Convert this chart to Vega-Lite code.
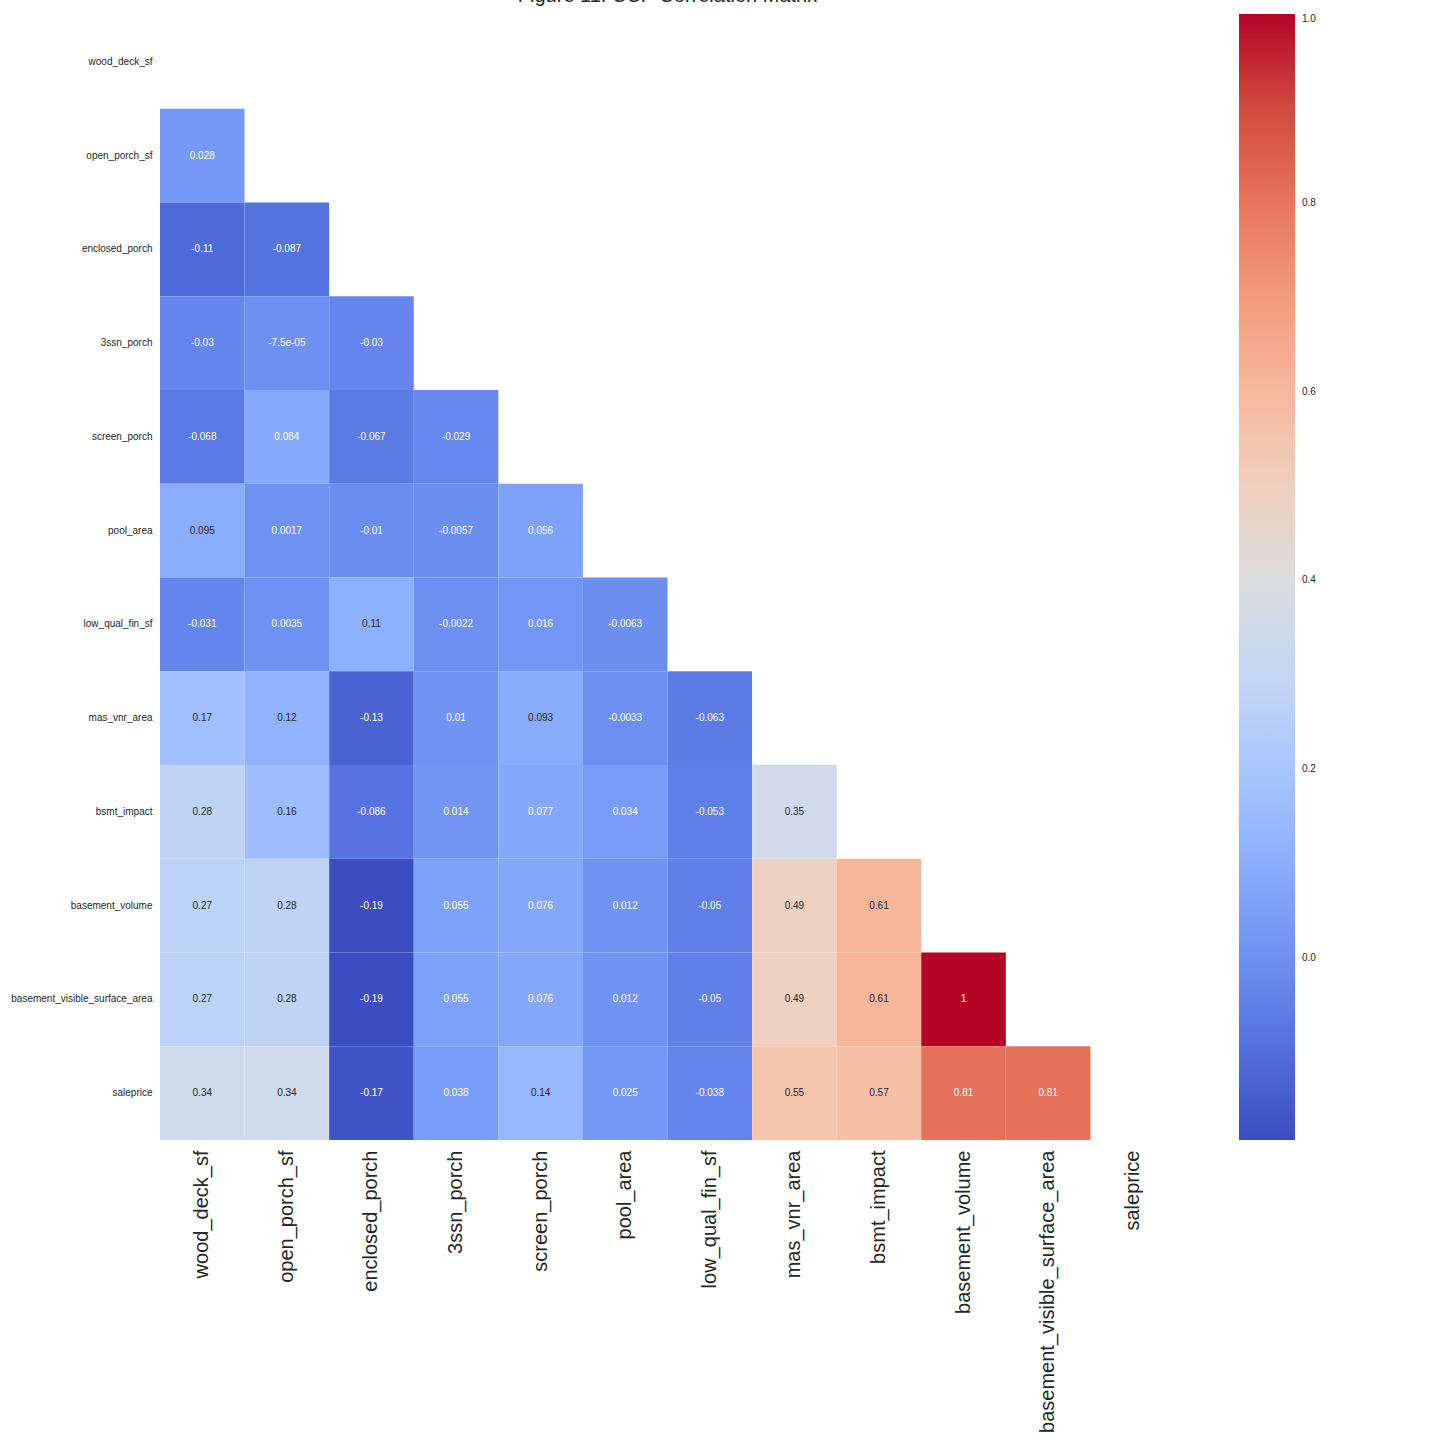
{
  "$schema": "https://vega.github.io/schema/vega-lite/v6.json",
  "autosize": "none",
  "width": 1015,
  "height": 1125,
  "padding": {"left": 160, "top": 15, "right": 265, "bottom": 300},
  "background": "white",
  "title": {"text": "Figure 11: CCP Correlation Matrix", "fontSize": 20, "font": "Liberation Sans", "fontWeight": "normal", "color": "#262626", "anchor": "middle", "frame": "group", "offset": 8},
  "config": {"view": {"stroke": null}, "font": "Liberation Sans"},
  "data": {"values": [
    {"row": "open_porch_sf", "col": "wood_deck_sf", "v": 0.028, "label": "0.028"},
    {"row": "enclosed_porch", "col": "wood_deck_sf", "v": -0.11, "label": "-0.11"},
    {"row": "enclosed_porch", "col": "open_porch_sf", "v": -0.087, "label": "-0.087"},
    {"row": "3ssn_porch", "col": "wood_deck_sf", "v": -0.03, "label": "-0.03"},
    {"row": "3ssn_porch", "col": "open_porch_sf", "v": -0.000075, "label": "-7.5e-05"},
    {"row": "3ssn_porch", "col": "enclosed_porch", "v": -0.03, "label": "-0.03"},
    {"row": "screen_porch", "col": "wood_deck_sf", "v": -0.068, "label": "-0.068"},
    {"row": "screen_porch", "col": "open_porch_sf", "v": 0.084, "label": "0.084"},
    {"row": "screen_porch", "col": "enclosed_porch", "v": -0.067, "label": "-0.067"},
    {"row": "screen_porch", "col": "3ssn_porch", "v": -0.029, "label": "-0.029"},
    {"row": "pool_area", "col": "wood_deck_sf", "v": 0.095, "label": "0.095"},
    {"row": "pool_area", "col": "open_porch_sf", "v": 0.0017, "label": "0.0017"},
    {"row": "pool_area", "col": "enclosed_porch", "v": -0.01, "label": "-0.01"},
    {"row": "pool_area", "col": "3ssn_porch", "v": -0.0057, "label": "-0.0057"},
    {"row": "pool_area", "col": "screen_porch", "v": 0.056, "label": "0.056"},
    {"row": "low_qual_fin_sf", "col": "wood_deck_sf", "v": -0.031, "label": "-0.031"},
    {"row": "low_qual_fin_sf", "col": "open_porch_sf", "v": 0.0035, "label": "0.0035"},
    {"row": "low_qual_fin_sf", "col": "enclosed_porch", "v": 0.11, "label": "0.11"},
    {"row": "low_qual_fin_sf", "col": "3ssn_porch", "v": -0.0022, "label": "-0.0022"},
    {"row": "low_qual_fin_sf", "col": "screen_porch", "v": 0.016, "label": "0.016"},
    {"row": "low_qual_fin_sf", "col": "pool_area", "v": -0.0063, "label": "-0.0063"},
    {"row": "mas_vnr_area", "col": "wood_deck_sf", "v": 0.17, "label": "0.17"},
    {"row": "mas_vnr_area", "col": "open_porch_sf", "v": 0.12, "label": "0.12"},
    {"row": "mas_vnr_area", "col": "enclosed_porch", "v": -0.13, "label": "-0.13"},
    {"row": "mas_vnr_area", "col": "3ssn_porch", "v": 0.01, "label": "0.01"},
    {"row": "mas_vnr_area", "col": "screen_porch", "v": 0.093, "label": "0.093"},
    {"row": "mas_vnr_area", "col": "pool_area", "v": -0.0033, "label": "-0.0033"},
    {"row": "mas_vnr_area", "col": "low_qual_fin_sf", "v": -0.063, "label": "-0.063"},
    {"row": "bsmt_impact", "col": "wood_deck_sf", "v": 0.28, "label": "0.28"},
    {"row": "bsmt_impact", "col": "open_porch_sf", "v": 0.16, "label": "0.16"},
    {"row": "bsmt_impact", "col": "enclosed_porch", "v": -0.086, "label": "-0.086"},
    {"row": "bsmt_impact", "col": "3ssn_porch", "v": 0.014, "label": "0.014"},
    {"row": "bsmt_impact", "col": "screen_porch", "v": 0.077, "label": "0.077"},
    {"row": "bsmt_impact", "col": "pool_area", "v": 0.034, "label": "0.034"},
    {"row": "bsmt_impact", "col": "low_qual_fin_sf", "v": -0.053, "label": "-0.053"},
    {"row": "bsmt_impact", "col": "mas_vnr_area", "v": 0.35, "label": "0.35"},
    {"row": "basement_volume", "col": "wood_deck_sf", "v": 0.27, "label": "0.27"},
    {"row": "basement_volume", "col": "open_porch_sf", "v": 0.28, "label": "0.28"},
    {"row": "basement_volume", "col": "enclosed_porch", "v": -0.19, "label": "-0.19"},
    {"row": "basement_volume", "col": "3ssn_porch", "v": 0.055, "label": "0.055"},
    {"row": "basement_volume", "col": "screen_porch", "v": 0.076, "label": "0.076"},
    {"row": "basement_volume", "col": "pool_area", "v": 0.012, "label": "0.012"},
    {"row": "basement_volume", "col": "low_qual_fin_sf", "v": -0.05, "label": "-0.05"},
    {"row": "basement_volume", "col": "mas_vnr_area", "v": 0.49, "label": "0.49"},
    {"row": "basement_volume", "col": "bsmt_impact", "v": 0.61, "label": "0.61"},
    {"row": "basement_visible_surface_area", "col": "wood_deck_sf", "v": 0.27, "label": "0.27"},
    {"row": "basement_visible_surface_area", "col": "open_porch_sf", "v": 0.28, "label": "0.28"},
    {"row": "basement_visible_surface_area", "col": "enclosed_porch", "v": -0.19, "label": "-0.19"},
    {"row": "basement_visible_surface_area", "col": "3ssn_porch", "v": 0.055, "label": "0.055"},
    {"row": "basement_visible_surface_area", "col": "screen_porch", "v": 0.076, "label": "0.076"},
    {"row": "basement_visible_surface_area", "col": "pool_area", "v": 0.012, "label": "0.012"},
    {"row": "basement_visible_surface_area", "col": "low_qual_fin_sf", "v": -0.05, "label": "-0.05"},
    {"row": "basement_visible_surface_area", "col": "mas_vnr_area", "v": 0.49, "label": "0.49"},
    {"row": "basement_visible_surface_area", "col": "bsmt_impact", "v": 0.61, "label": "0.61"},
    {"row": "basement_visible_surface_area", "col": "basement_volume", "v": 1.0, "label": "1"},
    {"row": "saleprice", "col": "wood_deck_sf", "v": 0.34, "label": "0.34"},
    {"row": "saleprice", "col": "open_porch_sf", "v": 0.34, "label": "0.34"},
    {"row": "saleprice", "col": "enclosed_porch", "v": -0.17, "label": "-0.17"},
    {"row": "saleprice", "col": "3ssn_porch", "v": 0.038, "label": "0.038"},
    {"row": "saleprice", "col": "screen_porch", "v": 0.14, "label": "0.14"},
    {"row": "saleprice", "col": "pool_area", "v": 0.025, "label": "0.025"},
    {"row": "saleprice", "col": "low_qual_fin_sf", "v": -0.038, "label": "-0.038"},
    {"row": "saleprice", "col": "mas_vnr_area", "v": 0.55, "label": "0.55"},
    {"row": "saleprice", "col": "bsmt_impact", "v": 0.57, "label": "0.57"},
    {"row": "saleprice", "col": "basement_volume", "v": 0.81, "label": "0.81"},
    {"row": "saleprice", "col": "basement_visible_surface_area", "v": 0.81, "label": "0.81"}
  ]},
  "encoding": {
    "x": {"field": "col", "type": "nominal", "sort": null,
      "scale": {"domain": ["wood_deck_sf", "open_porch_sf", "enclosed_porch", "3ssn_porch", "screen_porch", "pool_area", "low_qual_fin_sf", "mas_vnr_area", "bsmt_impact", "basement_volume", "basement_visible_surface_area", "saleprice"], "paddingInner": 0, "paddingOuter": 0},
      "axis": {"title": null, "orient": "bottom", "labelAngle": -90, "labelFontSize": 20, "labelColor": "#262626", "labelPadding": 10, "labelLimit": 0, "ticks": false, "domain": false, "grid": false, "labelFont": "Liberation Sans"}},
    "y": {"field": "row", "type": "nominal", "sort": null,
      "scale": {"domain": ["wood_deck_sf", "open_porch_sf", "enclosed_porch", "3ssn_porch", "screen_porch", "pool_area", "low_qual_fin_sf", "mas_vnr_area", "bsmt_impact", "basement_volume", "basement_visible_surface_area", "saleprice"], "paddingInner": 0, "paddingOuter": 0},
      "axis": {"title": null, "labelFontSize": 10, "labelColor": "#262626", "labelPadding": 8, "labelLimit": 0, "ticks": false, "domain": false, "grid": false, "labelFont": "Liberation Sans"}}
  },
  "layer": [
    {
      "mark": {"type": "rect", "strokeWidth": 0},
      "encoding": {
        "color": {"field": "v", "type": "quantitative",
          "scale": {"type": "linear", "interpolate": "rgb",
            "domain": [-0.1926, -0.1553, -0.1181, -0.0808, -0.0435, -0.0063, 0.031, 0.0683, 0.1055, 0.1428, 0.1801, 0.2173, 0.2546, 0.2919, 0.3292, 0.3664, 0.4037, 0.441, 0.4782, 0.5155, 0.5528, 0.59, 0.6273, 0.6646, 0.7018, 0.7391, 0.7764, 0.8136, 0.8509, 0.8882, 0.9254, 0.9627, 1.0],
            "range": ["rgb(59,76,192)", "rgb(68,90,204)", "rgb(77,104,215)", "rgb(87,117,225)", "rgb(98,130,234)", "rgb(108,142,241)", "rgb(119,154,247)", "rgb(130,165,251)", "rgb(141,176,254)", "rgb(152,185,255)", "rgb(163,194,255)", "rgb(174,201,253)", "rgb(184,208,249)", "rgb(194,213,244)", "rgb(204,217,238)", "rgb(213,219,230)", "rgb(221,221,221)", "rgb(229,216,209)", "rgb(236,211,197)", "rgb(241,204,185)", "rgb(245,196,173)", "rgb(247,187,160)", "rgb(247,177,148)", "rgb(247,166,135)", "rgb(244,154,123)", "rgb(241,141,111)", "rgb(236,127,99)", "rgb(229,112,88)", "rgb(222,96,77)", "rgb(213,80,66)", "rgb(203,62,56)", "rgb(192,40,47)", "rgb(180,4,38)"]},
          "legend": {"type": "gradient", "title": null, "orient": "none", "legendX": 1079, "legendY": -1, "direction": "vertical", "gradientLength": 1126, "gradientThickness": 56, "gradientStrokeWidth": 0, "values": [0, 0.2, 0.4, 0.6, 0.8, 1.0], "format": ".1f", "labelFontSize": 10, "labelColor": "#262626", "labelOffset": 7, "labelBaseline": "middle", "labelFont": "Liberation Sans"}}
      }
    },
    {
      "mark": {"type": "text", "fontSize": 10, "font": "Liberation Sans", "align": "center", "baseline": "middle"},
      "encoding": {
        "text": {"field": "label", "type": "nominal"},
        "color": {"condition": {"test": "datum.v >= 0.09 && datum.v <= 0.7", "value": "#262626"}, "value": "#ffffff"}
      }
    }
  ]
}
